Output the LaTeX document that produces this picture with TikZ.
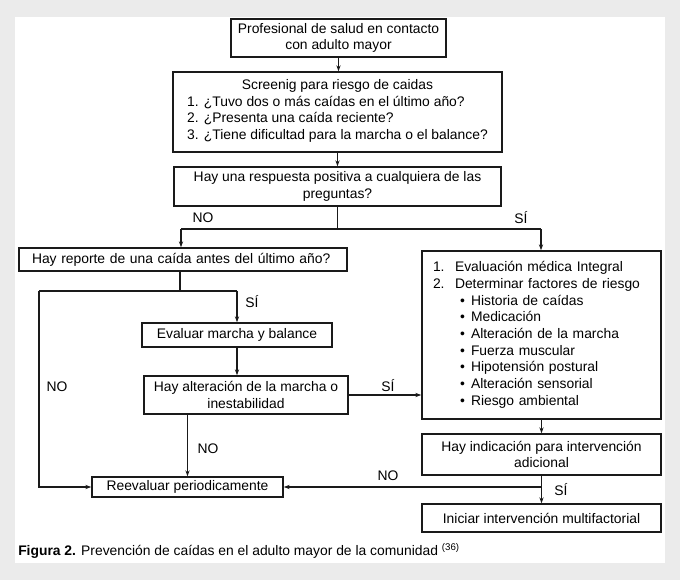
\documentclass[tikz,border=0pt]{standalone}
\usepackage{fontspec}
\setmainfont{Liberation Sans}
\usetikzlibrary{arrows.meta}
\newlength\pxl
\setlength\pxl{0.75pt}
\newcommand\mainf{\fontsize{10.4pt}{12.5pt}\selectfont}
\definecolor{bggray}{HTML}{EBEBEB}
\definecolor{linec}{HTML}{1A1A1A}
\definecolor{textc}{HTML}{000000}
\tikzset{
  x=0.75pt, y=-0.75pt,
  box/.style={draw=linec, line width=1.1pt, fill=white, inner sep=0pt, align=center, font=\mainf, text=textc},
  lbl/.style={inner sep=0pt, font=\mainf, text=textc},
  conn/.style={draw=linec, line width=0.85pt},
  arr/.style={conn, -{Stealth[length=4.5pt,width=3.2pt]}},
}
\begin{document}
\begin{tikzpicture}
\fill[bggray] (0,0) rectangle (680,580);
\fill[white] (15,17) rectangle (665,563);
\useasboundingbox (0,0) rectangle (680,580);

\node[box, minimum width=215\pxl, minimum height=38\pxl] (b1) at (338.5,38)
  {Profesional de salud en contacto\\con adulto mayor};
\node[box, minimum width=329\pxl, minimum height=80\pxl] (b2) at (337.5,112)
  {Screenig para riesgo de caidas\\
   \begin{tabular}[t]{@{}l@{}}1. ¿Tuvo dos o más caídas en el último año?\\
   2. ¿Presenta una caída reciente?\\
   3. ¿Tiene dificultad para la marcha o el balance?\end{tabular}};
\node[box, minimum width=327\pxl, minimum height=39\pxl] (b3) at (337.5,186.5)
  {Hay una respuesta positiva a cualquiera de las\\preguntas?};
\node[box, align=left, text width=302\pxl, inner xsep=13\pxl, minimum height=23\pxl] (b4) at (183,259.5)
  {Hay reporte de una caída antes del último año?};
\node[box, align=left, text width=217\pxl, inner xsep=11\pxl, minimum height=168\pxl] (b5) at (541.5,335)
  {\makebox[22\pxl][l]{1.}Evaluación médica Integral\\
   \makebox[22\pxl][l]{2.}Determinar factores de riesgo\\
   \hspace*{27\pxl}\makebox[11\pxl][l]{•}Historia de caídas\\
   \hspace*{27\pxl}\makebox[11\pxl][l]{•}Medicación\\
   \hspace*{27\pxl}\makebox[11\pxl][l]{•}Alteración de la marcha\\
   \hspace*{27\pxl}\makebox[11\pxl][l]{•}Fuerza muscular\\
   \hspace*{27\pxl}\makebox[11\pxl][l]{•}Hipotensión postural\\
   \hspace*{27\pxl}\makebox[11\pxl][l]{•}Alteración sensorial\\
   \hspace*{27\pxl}\makebox[11\pxl][l]{•}Riesgo ambiental};
\node[box, minimum width=190\pxl, minimum height=24\pxl] (b6) at (237,335)
  {Evaluar marcha y balance};
\node[box, minimum width=204\pxl, minimum height=38\pxl] (b7) at (246,395)
  {Hay alteración de la marcha o\\inestabilidad};
\node[box, minimum width=191\pxl, minimum height=20\pxl] (b8) at (187.5,487)
  {Reevaluar periodicamente};
\node[box, minimum width=239\pxl, minimum height=41\pxl] (b9) at (541.5,454.5)
  {Hay indicación para intervención\\adicional};
\node[box, minimum width=239\pxl, minimum height=28\pxl] (b10) at (541.5,518)
  {Iniciar intervención multifactorial};

% labels
\node[lbl] (lno1) at (203,218) {NO};
\node[lbl] (lsi1) at (521,218) {SÍ};
\node[lbl] (lsi2) at (252,302) {SÍ};
\node[lbl] (lno2) at (57,387) {NO};
\node[lbl] (lsi3) at (388,386) {SÍ};
\node[lbl] (lno3) at (208,449) {NO};
\node[lbl] (lno4) at (388,476) {NO};
\node[lbl] (lsi4) at (561,490) {SÍ};

% coordinates
\coordinate (jL) at (181,229);
\coordinate (jR) at (541,229);
\coordinate (k) at (180,291);
\coordinate (kL) at (39,291);
\coordinate (kR) at (237,291);
\coordinate (m) at (541,487);

% connectors
\draw[arr] (b1.south) -- (b1.south |- b2.north);
\draw[arr] (b2.south) -- (b2.south |- b3.north);
\draw[conn] (b3.south) -- (b3.south |- jL);
\draw[conn] (jL) -- (jR);
\draw[arr] (jL) -- (jL |- b4.north);
\draw[arr] (jR) -- (jR |- b5.north);
\draw[conn] (k |- b4.south) -- (k);
\draw[conn] (kL) -- (kR);
\draw[arr] (kR) -- (kR |- b6.north);
\draw[arr] (kL) -- (kL |- b8.west) -- (b8.west);
\draw[arr] (b6.south) -- (b6.south |- b7.north);
\draw[arr] (b7.east) -- (b7.east -| b5.west);
\draw[arr] (b8.north |- b7.south) -- (b8.north);
\draw[arr] (b5.south) -- (b5.south |- b9.north);
\draw[arr] (b9.south) -- (b9.south |- b10.north);
\draw[arr] (m) -- (m -| b8.east);

% caption
\node[lbl, anchor=base west] (cap) at (18,555)
  {\textbf{Figura 2.} Prevención de caídas en el adulto mayor de la comunidad \textsuperscript{(36)}};
\end{tikzpicture}
\end{document}
